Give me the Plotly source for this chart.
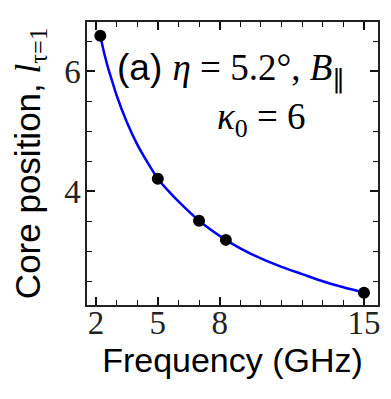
import plotly.graph_objects as go

# measured points
freq_pts = [2.21, 5.0, 7.0, 8.3, 15.0]
core_pts = [6.59, 4.21, 3.51, 3.19, 2.31]

# fitted curve
freq_curve = [2.21, 2.4, 2.6, 2.8, 3.0, 3.5, 4.0, 4.5, 5.0, 5.5, 6.0, 7.0, 8.3, 9.0, 10.0, 11.0, 12.0, 13.0, 14.0, 15.0]
core_curve = [6.59, 6.30, 6.04, 5.82, 5.60, 5.15, 4.78, 4.48, 4.21, 4.01, 3.83, 3.51, 3.19, 3.05, 2.88, 2.74, 2.62, 2.50, 2.40, 2.31]

x_ticks = [2, 5, 8, 15]
x_ticklabels = ["2", "5", "8", "15"]
x_minor = [3, 4, 6, 7, 9, 10, 11, 12, 13, 14]
y_ticks = [4, 6]
y_ticklabels = ["4", "6"]
y_minor = [2.5, 3.0, 3.5, 4.5, 5.0, 5.5, 6.5]

SERIF = "Liberation Serif"
SANS = "Liberation Sans"

fig = go.Figure()
fig.add_trace(go.Scatter(x=freq_curve, y=core_curve, mode="lines",
                         line=dict(color="#0000ff", width=2.5, shape="spline", smoothing=0.8),
                         hoverinfo="skip", showlegend=False))
fig.add_trace(go.Scatter(x=freq_pts, y=core_pts, mode="markers",
                         marker=dict(color="black", size=12), showlegend=False))

axis_common = dict(showgrid=False, zeroline=False, showline=True, linecolor="#222",
                   linewidth=1.5, mirror="allticks", ticks="inside", ticklen=8,
                   tickwidth=1.5, tickcolor="#111",
                   tickfont=dict(family=SERIF, size=33, color="#222"))

fig.update_xaxes(range=[1.565, 15.68], tickmode="array", tickvals=x_ticks,
                 ticktext=x_ticklabels, ticklabelstandoff=-12,
                 minor=dict(tickmode="array", tickvals=x_minor, ticklen=5,
                            ticks="inside", tickcolor="#111", tickwidth=1.2, showgrid=False),
                 title=dict(text="Frequency (GHz)", font=dict(family=SANS, size=34, color="black"),
                            standoff=2),
                 **axis_common)
fig.update_yaxes(range=[2.105, 6.82], tickmode="array", tickvals=y_ticks,
                 ticktext=y_ticklabels, ticklabelstandoff=-2,
                 minor=dict(tickmode="array", tickvals=y_minor, ticklen=5,
                            ticks="inside", tickcolor="#111", tickwidth=1.2, showgrid=False),
                 title=dict(text="Core position, <span style='font-family:Liberation Serif'><i>l</i><sub>τ=1</sub></span>",
                            font=dict(family=SANS, size=35, color="black"), standoff=18),
                 **axis_common)

fig.add_annotation(xref="paper", yref="paper", x=0.095, y=0.827, xanchor="left", yanchor="middle",
                   showarrow=False,
                   text="(a) <span style='font-family:Liberation Serif'><i>η</i>&nbsp;=&nbsp;5.2°,&nbsp;<i>B</i><sub>∥</sub></span>",
                   font=dict(family=SANS, size=37, color="black"))
fig.add_annotation(xref="paper", yref="paper", x=0.44, y=0.657, xanchor="left", yanchor="middle",
                   showarrow=False,
                   text="<i>κ</i><sub>0</sub>&nbsp;=&nbsp;6",
                   font=dict(family=SERIF, size=37, color="black"))

fig.update_layout(width=391, height=399, margin=dict(l=79, r=21, t=14, b=102),
                  plot_bgcolor="white", paper_bgcolor="white")

fig.write_html("out.html")
